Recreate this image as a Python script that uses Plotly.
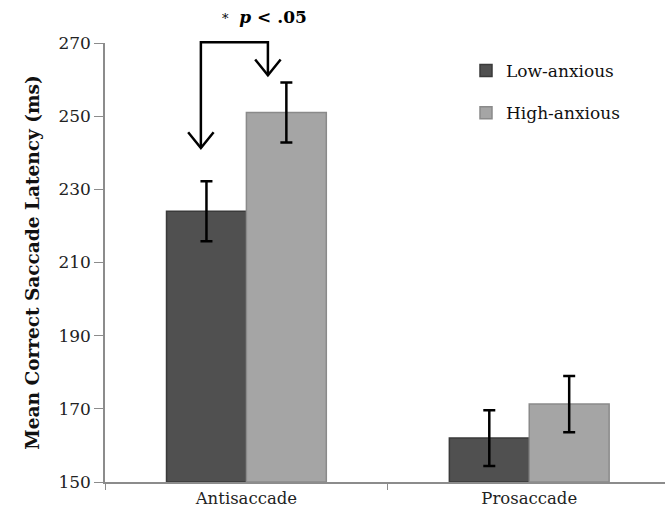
import plotly.graph_objects as go

categories = ["Antisaccade", "Prosaccade"]
low_anxious = [224, 162]
low_err = [8.2, 7.6]
high_anxious = [251, 171.3]
high_err = [8.2, 7.7]
y_ticks = [150, 170, 190, 210, 230, 250, 270]

FONT = "DejaVu Serif"
X0, X1 = -0.5, 1.48
Y0, Y1 = 150, 270

def px(x):
    return (x - X0) / (X1 - X0)

def py(y):
    return (y - Y0) / (Y1 - Y0)

fig = go.Figure()
fig.add_trace(go.Bar(
    x=categories, y=[v - 150 for v in low_anxious], base=150, name="Low-anxious",
    legendgroup="a",
    marker=dict(color="#505050", line=dict(color="#3a3a3a", width=1.5)),
    error_y=dict(type="data", array=low_err, color="black", thickness=2.5, width=6),
))
fig.add_trace(go.Bar(
    x=categories, y=[v - 150 for v in high_anxious], base=150, name="High-anxious",
    legendgroup="b",
    marker=dict(color="#a5a5a5", line=dict(color="#8a8a8a", width=1.5)),
    error_y=dict(type="data", array=high_err, color="black", thickness=2.5, width=6),
))

# significance bracket with open arrowheads
xl, xr = -0.161, 0.076
ytop, yl_tip, yr_tip = 270.2, 241.3, 261.2
lw = 2.5
fig.add_shape(type="path", xref="paper", yref="paper",
              path=f"M {px(xl)},{py(yl_tip)} L {px(xl)},{py(ytop)} L {px(xr)},{py(ytop)} L {px(xr)},{py(yr_tip)}",
              line=dict(color="black", width=lw))
for x0, yt in [(xl, yl_tip), (xr, yr_tip)]:
    dx = 0.045
    dy = 4.3
    fig.add_shape(type="path", xref="paper", yref="paper",
                  path=f"M {px(x0-dx)},{py(yt+dy)} L {px(x0)},{py(yt)} L {px(x0+dx)},{py(yt+dy)}",
                  line=dict(color="black", width=lw))

fig.add_annotation(xref="paper", yref="paper", x=(264 - 105) / 560, y=1 + 26 / 439,
                   text="<span style='font-size:13px'>*</span>  <b><i>p</i> &lt; .05</b>",
                   showarrow=False, font=dict(family=FONT, size=17, color="black"),
                   xanchor="center", yanchor="middle")

fig.update_layout(
    width=665, height=512,
    margin=dict(l=105, r=0, t=43, b=30),
    plot_bgcolor="white", paper_bgcolor="white",
    barmode="group", bargap=0.435, bargroupgap=0,
    font=dict(family=FONT, size=16, color="#222"),
    showlegend=True,
    legend=dict(x=(466 - 105) / 560, y=1 - (53 - 43) / 439, xanchor="left", yanchor="top",
                font=dict(family=FONT, size=17, color="#111"),
                tracegroupgap=17, traceorder="grouped", bgcolor="rgba(0,0,0,0)"),
    xaxis=dict(range=[X0, X1], showline=True, linecolor="#8c8c8c", linewidth=1.5,
               ticks="outside", tickson="boundaries", ticklen=6, tickcolor="#8c8c8c",
               showgrid=False, tickfont=dict(family=FONT, size=16.5, color="#222")),
    yaxis=dict(range=[Y0, Y1], tickvals=y_ticks, showline=True, linecolor="#8c8c8c",
               linewidth=1.5, ticks="outside", ticklen=9, tickcolor="#8c8c8c",
               showgrid=False, zeroline=False, tickfont=dict(family=FONT, size=17, color="#222"),
               title=dict(text="<b>Mean Correct Saccade Latency (ms)</b>", standoff=14,
                          font=dict(family=FONT, size=18.5, color="#111"))),
)

fig.write_html("out.html")
